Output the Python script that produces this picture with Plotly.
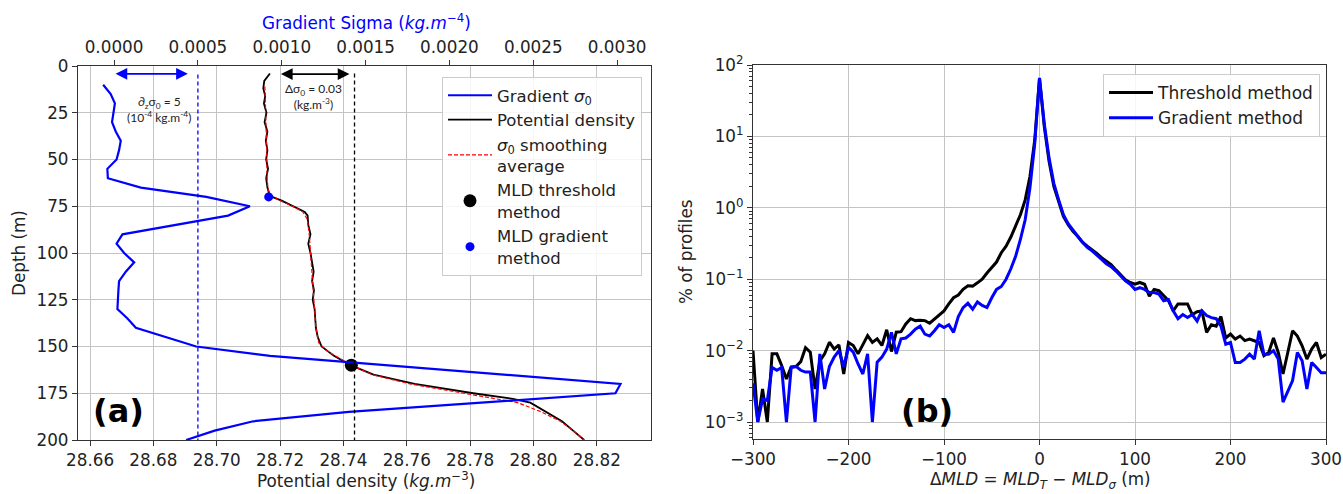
import plotly.graph_objects as go

W, H = 1343, 494

# ---------------- Panel (a): a single density profile ----------------
grad_depth = [10, 15, 20, 25, 30, 35, 40, 45, 50, 55, 60, 65, 70, 75, 80, 90, 95, 100,
              105, 110, 115, 120, 130, 135, 140, 150, 155, 170, 175, 185, 190, 195, 200]
grad_sigma = [-0.000065, -0.00002, 0.000005, -0.000004, -0.000012, 0.00001, 0.00004,
              0.00003, 0.000015, -0.00004, -0.000037, 0.00016, 0.00055, 0.00081, 0.00068,
              0.00005, 0.000015, 0.00006, 0.00012, 0.00007, 0.00003, 0.000026, 0.00002,
              0.00008, 0.00013, 0.00049, 0.00093, 0.00302, 0.00299, 0.0014, 0.00083,
              0.0006, 0.00043]

dens_depth = [4, 8, 12, 16, 20, 25, 30, 35, 40, 45, 50, 55, 60, 65, 68, 70, 72, 75, 78, 80,
              85, 90, 95, 100, 105, 110, 115, 120, 125, 130, 135, 140, 145, 150, 155, 160,
              165, 170, 175, 178, 180, 183, 186, 190, 195, 200]
dens_sigma = [28.7168, 28.7150, 28.7147, 28.7153, 28.7149, 28.7157, 28.7151, 28.7160,
              28.7155, 28.7160, 28.7156, 28.7162, 28.7156, 28.7160, 28.7165, 28.7175,
              28.7205, 28.7242, 28.7278, 28.7287, 28.7289, 28.7296, 28.7289, 28.7296,
              28.7301, 28.7306, 28.7301, 28.7307, 28.7303, 28.7309, 28.7311, 28.7313,
              28.7319, 28.7331, 28.7370, 28.7422, 28.7495, 28.7625, 28.7810, 28.7935,
              28.7990, 28.8020, 28.8050, 28.8090, 28.8125, 28.8160]

smooth_depth = [11, 20, 30, 40, 50, 60, 66, 69, 72, 75, 78, 82, 90, 100, 110, 120, 130, 140,
                148, 152, 156, 160, 165, 170, 175, 180, 185, 190, 195, 200]
smooth_sigma = [28.7152, 28.7154, 28.7156, 28.7157, 28.7158, 28.7159, 28.7162, 28.7170,
                28.7200, 28.7240, 28.7272, 28.7286, 28.7292, 28.7296, 28.7302, 28.7305,
                28.7309, 28.7313, 28.7322, 28.7345, 28.7385, 28.7425, 28.7490, 28.7610,
                28.7780, 28.7950, 28.8025, 28.8085, 28.8125, 28.8160]

mld_threshold_sigma = [28.7425]
mld_threshold_depth = [160]
mld_gradient_sigma = [28.7164]
mld_gradient_depth = [70]

sigma_ref = 28.7135           # reference density near the surface
delta_sigma = 0.03            # threshold criterion
grad_criterion = 0.0005       # gradient criterion

density_ticks = [28.66, 28.68, 28.70, 28.72, 28.74, 28.76, 28.78, 28.80, 28.82]
gradient_ticks = [0.0, 0.0005, 0.0010, 0.0015, 0.0020, 0.0025, 0.0030]
depth_ticks = [0, 25, 50, 75, 100, 125, 150, 175, 200]

# ---------------- Panel (b): distribution of MLD differences ----------------
delta_mld = list(range(-300, 305, 5))
pct_threshold = [
    0.0100, 0.0010, 0.0029, 0.0010, 0.0090, 0.0090, 0.0062, 0.0040, 0.0059, 0.0060,
    0.0070, 0.0110, 0.0095, 0.0029, 0.0072, 0.0090, 0.0131, 0.0105, 0.0120, 0.0047,
    0.0130, 0.0118, 0.0090, 0.0118, 0.0162, 0.0130, 0.0146, 0.0118, 0.0196, 0.0097,
    0.0181, 0.0184, 0.0236, 0.0280, 0.0263, 0.0266, 0.0263, 0.0242, 0.0276, 0.0320,
    0.036, 0.045, 0.055, 0.060, 0.072, 0.081, 0.080, 0.089, 0.100, 0.122,
    0.145, 0.174, 0.235, 0.290, 0.390, 0.550, 0.800, 1.29, 2.75, 8.9,
    65.0, 13.7, 4.5, 2.0, 1.23, 0.76, 0.58, 0.47, 0.40, 0.33,
    0.29, 0.26, 0.23, 0.20, 0.18, 0.16, 0.135, 0.115, 0.098, 0.090,
    0.085, 0.090, 0.085, 0.058, 0.072, 0.069, 0.058, 0.050, 0.036, 0.045,
    0.045, 0.045, 0.032, 0.035, 0.036, 0.018, 0.023, 0.022, 0.030, 0.015,
    0.017, 0.0145, 0.016, 0.0138, 0.0145, 0.0138, 0.013, 0.0085, 0.0094, 0.015,
    0.0094, 0.0047, 0.0094, 0.019, 0.016, 0.0117, 0.0076, 0.0105, 0.013, 0.008,
    0.0089,
]
pct_gradient = [
    0.0035, 0.0010, 0.0021, 0.0020, 0.0058, 0.0053, 0.0058, 0.0010, 0.0058, 0.0060,
    0.0053, 0.0050, 0.0050, 0.0010, 0.0090, 0.0029, 0.0060, 0.0081, 0.0100, 0.0060,
    0.0111, 0.0095, 0.0065, 0.0047, 0.0090, 0.0010, 0.0069, 0.0081, 0.0105, 0.0180,
    0.0090, 0.0146, 0.0150, 0.0170, 0.0200, 0.0220, 0.0170, 0.0160, 0.0190, 0.0230,
    0.021, 0.023, 0.018, 0.030, 0.040, 0.046, 0.038, 0.048, 0.043, 0.040,
    0.055, 0.072, 0.079, 0.100, 0.140, 0.210, 0.360, 0.68, 1.9, 7.9,
    66.0, 15.0, 5.0, 2.2, 1.3, 0.80, 0.60, 0.48, 0.40, 0.33,
    0.28, 0.25, 0.22, 0.19, 0.165, 0.15, 0.13, 0.11, 0.095, 0.085,
    0.072, 0.076, 0.072, 0.065, 0.065, 0.062, 0.050, 0.052, 0.036, 0.028,
    0.032, 0.029, 0.032, 0.026, 0.036, 0.031, 0.029, 0.028, 0.022, 0.0123,
    0.013, 0.0068, 0.0068, 0.0076, 0.0089, 0.0076, 0.019, 0.0089, 0.0089, 0.010,
    0.0076, 0.0019, 0.0027, 0.0038, 0.0094, 0.0072, 0.0029, 0.0068, 0.0058, 0.0049,
    0.0049,
]
mld_ticks = [-300, -200, -100, 0, 100, 200, 300]
pct_tick_exp = [-3, -2, -1, 0, 1, 2]

# ---------------- styling ----------------
FONT = "DejaVu Sans"
FS = 16.8
TICK = dict(family=FONT, size=FS, color="#222222")
GRID = "#c4c4c4"
SPINE = "#333333"


def px_x(p):
    return p / W


def px_y(p):
    return 1 - p / H


left_dom = [px_x(78), px_x(651)]
right_dom = [px_x(753), px_x(1326)]
left_ydom = [px_y(440), px_y(66)]
right_ydom = [px_y(439), px_y(65)]

fig = go.Figure()

# gradient profile (top axis)
fig.add_trace(go.Scatter(
    x=grad_sigma, y=grad_depth, xaxis="x2", yaxis="y", mode="lines",
    line=dict(color="#0000ff", width=2.2), name="Gradient <i>σ</i><sub>0</sub>",
    legend="legend"))
fig.add_trace(go.Scatter(
    x=dens_sigma, y=dens_depth, xaxis="x", yaxis="y", mode="lines",
    line=dict(color="#000000", width=1.8), name="Potential density", legend="legend"))
fig.add_trace(go.Scatter(
    x=smooth_sigma, y=smooth_depth, xaxis="x", yaxis="y", mode="lines",
    line=dict(color="#ff0000", width=1.2, dash="4px,2px"),
    name="<i>σ</i><sub>0</sub> smoothing<br>average", legend="legend"))
fig.add_trace(go.Scatter(
    x=mld_threshold_sigma, y=mld_threshold_depth, xaxis="x", yaxis="y", mode="markers",
    marker=dict(color="#000000", size=13), name="MLD threshold<br>method", legend="legend"))
fig.add_trace(go.Scatter(
    x=mld_gradient_sigma, y=mld_gradient_depth, xaxis="x", yaxis="y", mode="markers",
    marker=dict(color="#0000ff", size=9), name="MLD gradient<br>method", legend="legend"))

# distributions (panel b)
fig.add_trace(go.Scatter(
    x=delta_mld, y=pct_threshold, xaxis="x3", yaxis="y3", mode="lines",
    line=dict(color="#000000", width=3), name="Threshold method", legend="legend2"))
fig.add_trace(go.Scatter(
    x=delta_mld, y=pct_gradient, xaxis="x3", yaxis="y3", mode="lines",
    line=dict(color="#0000ff", width=3), name="Gradient method", legend="legend2"))

axis_common = dict(showline=True, linecolor=SPINE, linewidth=1.3, ticks="outside",
                   ticklen=5, tickwidth=1.2, tickcolor=SPINE, tickfont=TICK,
                   zeroline=False, automargin=False)

fig.update_layout(
    width=W, height=H, margin=dict(l=0, r=0, t=0, b=0, autoexpand=False), autosize=False,
    paper_bgcolor="white", plot_bgcolor="white",
    font=dict(family=FONT, size=FS, color="#222222"),
    xaxis=dict(domain=left_dom, anchor="y", range=[28.6562, 28.8371],
               tickvals=density_ticks, ticktext=[f"{v:.2f}" for v in density_ticks],
               showgrid=True, gridcolor=GRID, gridwidth=1.2, mirror=False, **axis_common),
    xaxis2=dict(overlaying="x", side="top", anchor="y", range=[-0.000215, 0.003202],
                tickvals=gradient_ticks, ticktext=[f"{v:.4f}" for v in gradient_ticks],
                showgrid=False, **axis_common),
    yaxis=dict(domain=left_ydom, anchor="x", range=[200, 0], tickvals=depth_ticks,
               showgrid=True, gridcolor=GRID, gridwidth=1.2, mirror=True, **axis_common),
    xaxis3=dict(domain=right_dom, anchor="y3", range=[-300, 300], tickvals=mld_ticks,
                ticktext=[("−" + str(-v)) if v < 0 else str(v) for v in mld_ticks],
                showgrid=True, gridcolor=GRID, gridwidth=1.2, mirror=True, **axis_common),
    yaxis3=dict(domain=right_ydom, anchor="x3", type="log", range=[-3.238, 2.0],
                tickvals=[10.0 ** e for e in pct_tick_exp],
                ticktext=["10<sup>" + (("−" + str(-e)) if e < 0 else str(e)) + "</sup>"
                          for e in pct_tick_exp],
                minor=dict(ticks="outside", ticklen=3, tickcolor=SPINE, dtick="D1",
                           showgrid=False),
                showgrid=True, gridcolor=GRID, gridwidth=1.2, mirror=True, **axis_common),
    legend=dict(x=px_x(642), xanchor="right", y=px_y(77), yanchor="top", itemwidth=44,
                bgcolor="rgba(255,255,255,0.85)", bordercolor="#cccccc", borderwidth=1,
                font=dict(family=FONT, size=16.5, color="#222222"), tracegroupgap=0),
    legend2=dict(x=px_x(1320), xanchor="right", y=px_y(74), yanchor="top", itemwidth=44,
                 bgcolor="rgba(255,255,255,0.85)", bordercolor="#cccccc", borderwidth=1,
                 font=dict(family=FONT, size=17, color="#222222")),
    showlegend=True,
)

# criterion lines
fig.add_shape(type="line", xref="x", yref="y", x0=sigma_ref + delta_sigma,
              x1=sigma_ref + delta_sigma, y0=4, y1=200,
              line=dict(color="#000000", width=1.3, dash="4px,3px"))
fig.add_shape(type="line", xref="x2", yref="y", x0=grad_criterion, x1=grad_criterion,
              y0=4.5, y1=200, line=dict(color="#0000ff", width=1.3, dash="4px,3px"))

# double-headed arrows
fig.add_annotation(xref="x", yref="y", axref="x", ayref="y", x=28.7419, y=4.3,
                   ax=28.7198, ay=4.3, showarrow=True, arrowside="end+start",
                   arrowhead=2, arrowsize=1.3, arrowwidth=1.8, arrowcolor="#000000", text="")
fig.add_annotation(xref="x2", yref="y", axref="x2", ayref="y", x=0.00044, y=4.2,
                   ax=0.0000, ay=4.2, showarrow=True, arrowside="end+start",
                   arrowhead=2, arrowsize=1.3, arrowwidth=1.8, arrowcolor="#0000ff", text="")

small = dict(family="Lato", size=12, color="#222222")
fig.add_annotation(xref="x", yref="y", x=28.7307, y=16.5, showarrow=False, font=small,
                   text="Δσ<sub>0</sub> = 0.03<br>(kg.m<sup>-3</sup>)")
fig.add_annotation(xref="x2", yref="y", x=0.000268, y=23.5, showarrow=False, font=small,
                   text="∂<sub>z</sub>σ<sub>0</sub> = 5<br>(10<sup>-4</sup> kg.m<sup>-4</sup>)")

# panel letters
fig.add_annotation(xref="paper", yref="paper", x=px_x(118), y=px_y(411), showarrow=False,
                   xanchor="center", yanchor="middle",
                   text="<b>(a)</b>", font=dict(family=FONT, size=32, color="#000000"))
fig.add_annotation(xref="paper", yref="paper", x=px_x(927), y=px_y(411), showarrow=False,
                   xanchor="center", yanchor="middle",
                   text="<b>(b)</b>", font=dict(family=FONT, size=32, color="#000000"))

# axis titles
title_font = dict(family=FONT, size=FS, color="#222222")
titles = [
    (19, 253, -90, "Depth (m)", title_font),
    (366, 480, 0, "Potential density (<i>kg.m</i><sup>−3</sup>)", title_font),
    (366, 22, 0, "Gradient Sigma (<i>kg.m</i><sup>−4</sup>)",
     dict(family=FONT, size=FS, color="#0000ff")),
    (686, 252, -90, "% of profiles", title_font),
    (1040, 480, 0,
     "Δ<i>MLD</i> = <i>MLD</i><sub><i>T</i></sub> − <i>MLD</i><sub><i>σ</i></sub> (m)",
     title_font),
]
for tx, ty, ang, txt, fnt in titles:
    fig.add_annotation(xref="paper", yref="paper", x=px_x(tx), y=px_y(ty),
                       xanchor="center", yanchor="middle", showarrow=False,
                       textangle=ang, text=txt, font=fnt)

fig.write_html("out.html", config={"displayModeBar": False})
